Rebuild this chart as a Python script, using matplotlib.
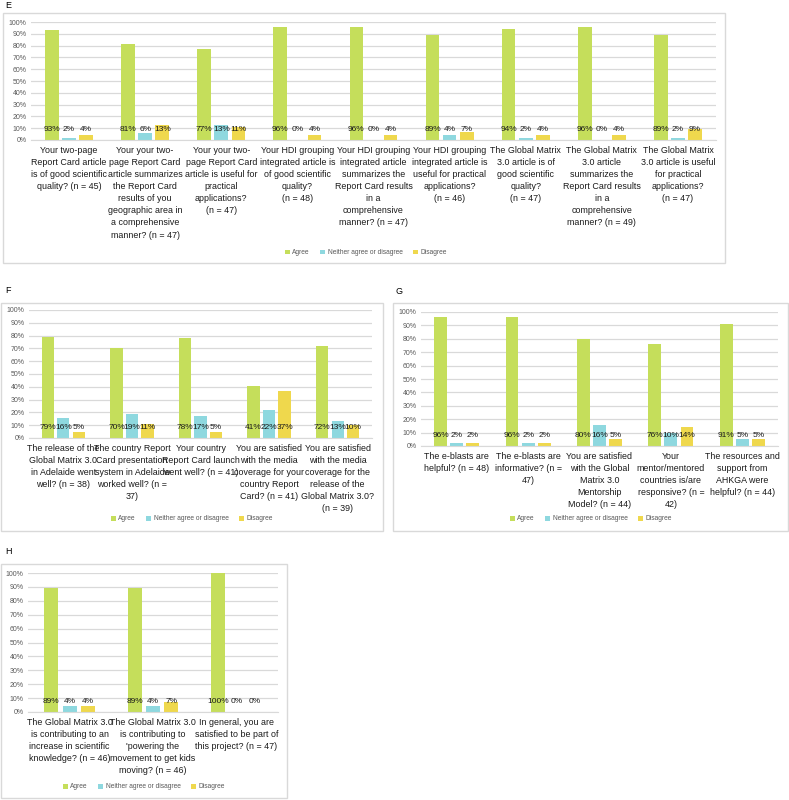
import matplotlib.pyplot as plt
import numpy as np
from matplotlib.patches import Rectangle, Patch

plt.rcParams['font.family'] = ['Liberation Sans', 'DejaVu Sans']

series = ['Agree', 'Neither agree or disagree', 'Disagree']
colors = ['#C5DE5B', '#8ED8DF', '#EFD84D']

cats_e = [
    "Your two-page\nReport Card article\nis of good scientific\nquality? (n = 45)",
    "Your your two-\npage Report Card\narticle summarizes\nthe Report Card\nresults of you\ngeographic area in\na comprehensive\nmanner? (n = 47)",
    "Your your two-\npage Report Card\narticle is useful for\npractical\napplications?\n(n = 47)",
    "Your HDI grouping\nintegrated article is\nof good scientific\nquality?\n(n = 48)",
    "Your HDI grouping\nintegrated article\nsummarizes the\nReport Card results\nin a\ncomprehensive\nmanner? (n = 47)",
    "Your HDI grouping\nintegrated article is\nuseful for practical\napplications?\n(n = 46)",
    "The Global Matrix\n3.0 article is of\ngood scientific\nquality?\n(n = 47)",
    "The Global Matrix\n3.0 article\nsummarizes the\nReport Card results\nin a\ncomprehensive\nmanner? (n = 49)",
    "The Global Matrix\n3.0 article is useful\nfor practical\napplications?\n(n = 47)",
]
agree_e = [93, 81, 77, 96, 96, 89, 94, 96, 89]
neither_e = [2, 6, 13, 0, 0, 4, 2, 0, 2]
disagree_e = [4, 13, 11, 4, 4, 7, 4, 4, 9]

cats_f = [
    "The release of the\nGlobal Matrix 3.0\nin Adelaide went\nwell? (n = 38)",
    "The country Report\nCard presentation\nsystem in Adelaide\nworked well? (n =\n37)",
    "Your country\nReport Card launch\nwent well? (n = 41)",
    "You are satisfied\nwith the media\ncoverage for your\ncountry Report\nCard? (n = 41)",
    "You are satisfied\nwith the media\ncoverage for the\nrelease of the\nGlobal Matrix 3.0?\n(n = 39)",
]
agree_f = [79, 70, 78, 41, 72]
neither_f = [16, 19, 17, 22, 13]
disagree_f = [5, 11, 5, 37, 10]

cats_g = [
    "The e-blasts are\nhelpful? (n = 48)",
    "The e-blasts are\ninformative? (n =\n47)",
    "You are satisfied\nwith the Global\nMatrix 3.0\nMentorship\nModel? (n = 44)",
    "Your\nmentor/mentored\ncountries is/are\nresponsive? (n =\n42)",
    "The resources and\nsupport from\nAHKGA were\nhelpful? (n = 44)",
]
agree_g = [96, 96, 80, 76, 91]
neither_g = [2, 2, 16, 10, 5]
disagree_g = [2, 2, 5, 14, 5]

cats_h = [
    "The Global Matrix 3.0\nis contributing to an\nincrease in scientific\nknowledge? (n = 46)",
    "The Global Matrix 3.0\nis contributing to\n'powering the\nmovement to get kids\nmoving? (n = 46)",
    "In general, you are\nsatisfied to be part of\nthis project? (n = 47)",
]
agree_h = [89, 89, 100]
neither_h = [4, 4, 0]
disagree_h = [4, 7, 0]

W, H = 789, 800
fig = plt.figure(figsize=(W / 100, H / 100), dpi=100)


def px_axes(l, t, r, b):
    return fig.add_axes([l / W, 1 - b / H, (r - l) / W, (b - t) / H])


def box(l, t, r, b):
    fig.patches.append(Rectangle((l / W, 1 - b / H), (r - l) / W, (b - t) / H,
                                 transform=fig.transFigure, fill=False,
                                 edgecolor='#D9D9D9', linewidth=1.0))


def panel(ax, cats, vals, width=0.18, step=0.225):
    x = np.arange(len(cats))
    for i, (v, c) in enumerate(zip(vals, colors)):
        xs = x + (i - 1) * step
        ax.bar(xs, v, width=width, color=c, zorder=2)
        for xx, vv in zip(xs, v):
            ax.annotate(f"{vv}%", (xx, 0), xytext=(0, 7.5), textcoords='offset points',
                        ha='center', va='center', fontsize=6.0, color='#1a1a1a', zorder=3)
    ax.set_xlim(-0.5, len(cats) - 0.5)
    ax.set_ylim(0, 100)
    ax.set_yticks(range(0, 101, 10))
    ax.set_yticklabels([f"{t}%" for t in range(0, 101, 10)], fontsize=5, color='#595959')
    ax.set_xticks(x)
    ax.set_xticklabels(cats, fontsize=6.4, linespacing=1.45, color='#1a1a1a', va='top')
    ax.tick_params(length=0, pad=4)
    ax.tick_params(axis='y', pad=3)
    ax.grid(axis='y', color='#D9D9D9', linewidth=0.9, zorder=0)
    for s in ['top', 'right', 'left']:
        ax.spines[s].set_visible(False)
    ax.spines['bottom'].set_color('#D9D9D9')
    ax.set_axisbelow(True)


def legend(cx, cy):
    handles = [Patch(facecolor=c, edgecolor='none') for c in colors]
    fig.legend(handles, series, loc='center', bbox_to_anchor=(cx / W, 1 - cy / H),
               ncol=3, frameon=False, fontsize=4.8, handlelength=0.7, handleheight=0.7,
               handletextpad=0.4, columnspacing=1.6, labelcolor='#595959')


# E
fig.text(5 / W, 1 - 6 / H, 'E', fontsize=6.5, va='center', ha='left')
box(3, 13, 725, 263)
ax = px_axes(31, 22, 716, 140)
panel(ax, cats_e, [agree_e, neither_e, disagree_e])
legend(366, 253)

# F
fig.text(5 / W, 1 - 290 / H, 'F', fontsize=6.5, va='center', ha='left')
box(1, 303, 383, 531)
ax = px_axes(29, 310, 372, 438)
panel(ax, cats_f, [agree_f, neither_f, disagree_f])
legend(192, 519)

# G
fig.text(395 / W, 1 - 292 / H, 'G', fontsize=6.5, va='center', ha='left')
box(393, 303, 788, 531)
ax = px_axes(421, 312, 778, 446)
panel(ax, cats_g, [agree_g, neither_g, disagree_g])
legend(591, 519)

# H
fig.text(5 / W, 1 - 552 / H, 'H', fontsize=6.5, va='center', ha='left')
box(1, 564, 287, 798)
ax = px_axes(28, 573, 278, 712)
panel(ax, cats_h, [agree_h, neither_h, disagree_h], width=0.17, step=0.22)
legend(144, 787)

fig.savefig('out.png', dpi=100, facecolor='white')
